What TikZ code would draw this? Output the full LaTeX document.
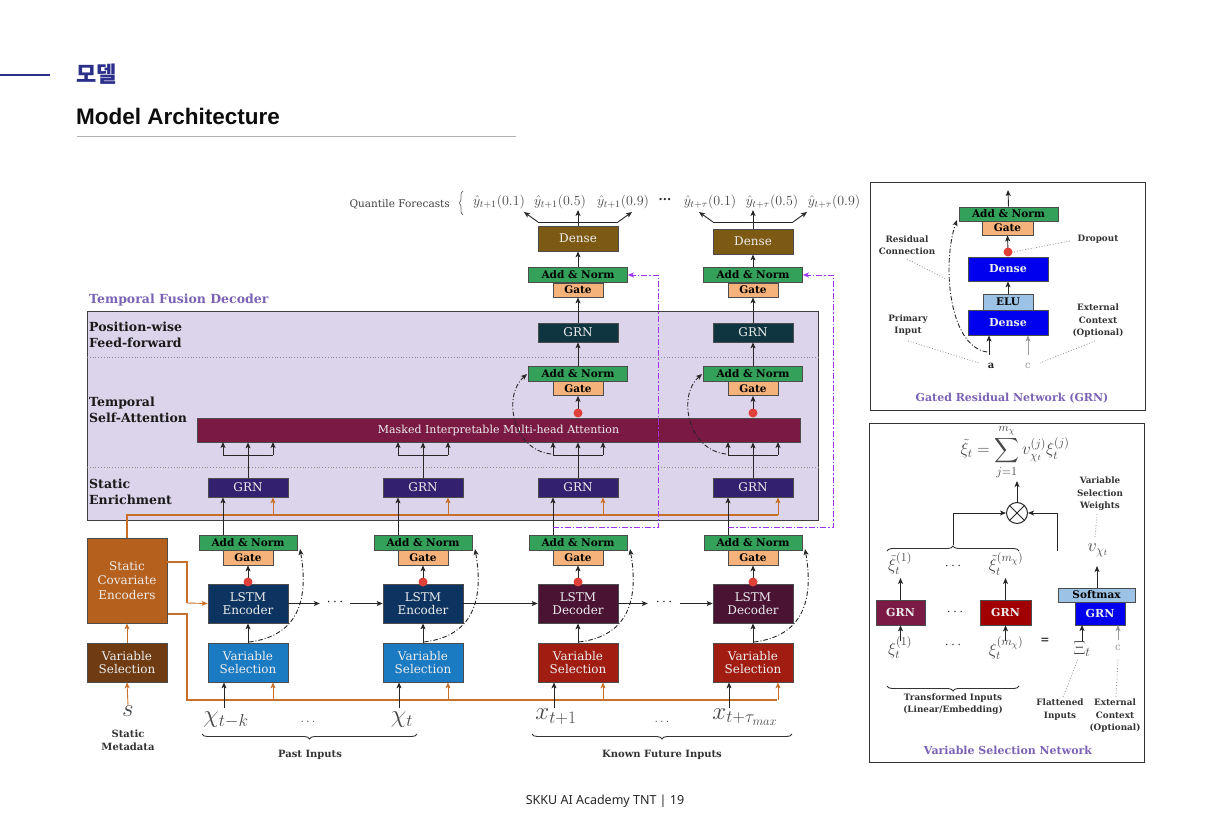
\RequirePackage{fix-cm}
\documentclass[tikz,border=0pt]{standalone}
\usepackage{exscale}
\usepackage{fontspec}
\setmainfont{DejaVu Serif}
\newfontfamily\kofont{Noto Sans CJK KR}
\newfontfamily\sansf{Noto Sans}
\newfontfamily\sansh{Liberation Sans}
\usetikzlibrary{arrows.meta,decorations.pathreplacing,calc}
\definecolor{navy}{HTML}{2B2F8A}
\definecolor{pbox}{HTML}{DCD4EA}
\definecolor{plabel}{HTML}{7B62B5}
\definecolor{addc}{HTML}{33A15A}
\definecolor{gatec}{HTML}{F5B27A}
\definecolor{densec}{HTML}{7D5A14}
\definecolor{pwc}{HTML}{0F3640}
\definecolor{grnind}{HTML}{33206E}
\definecolor{attc}{HTML}{7A1A42}
\definecolor{lenc}{HTML}{0D3461}
\definecolor{ldec}{HTML}{4A1233}
\definecolor{vsb}{HTML}{1A7AC2}
\definecolor{vsr}{HTML}{A11D12}
\definecolor{scec}{HTML}{B5601C}
\definecolor{svsc}{HTML}{6E3B12}
\definecolor{orl}{HTML}{C8702A}
\definecolor{viol}{HTML}{A033F0}
\definecolor{dblue}{HTML}{0000EE}
\definecolor{lblue}{HTML}{9CC3E5}
\definecolor{vmar}{HTML}{7B1A45}
\definecolor{vred}{HTML}{A00000}
\definecolor{reddot}{HTML}{E0403A}
\begin{document}
\begin{tikzpicture}[x=1pt,y=-1pt,
  bx/.style={draw=black!70, line width=0.7pt, inner sep=0pt, align=center, text=white!93!black, font=\fontsize{12}{13.5}\selectfont},
  bxb/.style={bx, text=black, font=\bfseries\fontsize{10.5}{12}\selectfont},
  bxw/.style={bx, font=\bfseries\fontsize{11}{13}\selectfont},
  arr/.style={-{Stealth[length=6pt,width=5pt,inset=1.5pt]}, line width=0.9pt, draw=black!85},
  plain/.style={line width=0.9pt, draw=black!85},
  oarr/.style={arr, draw=orl},
  oline/.style={draw=orl, line width=1.1pt},
  dd/.style={dash pattern=on 4.5pt off 2pt on 1pt off 2pt, line width=0.9pt},
  pdd/.style={dash pattern=on 6pt off 2pt on 1.5pt off 2pt, draw=viol, line width=1pt},
  leader/.style={dotted, line width=0.8pt, draw=black!45},
  lbl/.style={font=\bfseries\fontsize{12.5}{15.5}\selectfont, align=left, anchor=west, text=black!90, inner sep=0pt},
  plbl/.style={font=\bfseries\fontsize{11}{13}\selectfont, text=plabel},
  small/.style={font=\bfseries\fontsize{8.8}{12.5}\selectfont, align=center, text=black!80, inner sep=0pt},
  mth/.style={text=black!72, inner sep=0pt}
]
\useasboundingbox (0,0) rectangle (1207,837);

% ---------- header / footer
\draw[navy, line width=1.4pt] (0,75) -- (50,75);
\node[anchor=west, inner sep=0pt, text=navy, font=\kofont\bfseries\fontsize{22}{24}\selectfont] (ko) at (76,74) {모델};
\node[anchor=west, inner sep=0pt, font=\sansh\bfseries\fontsize{22.5}{24}\selectfont, text=black!95] (ttl) at (76,116) {Model Architecture};
\draw[black!30, line width=0.8pt] (77,136) -- (516,136);
\node[font=\sansf\fontsize{12.5}{14}\selectfont, text=black!85] (ft) at (605,801) {SKKU AI Academy TNT | 19};

% ---------- temporal fusion decoder box
\draw[draw=black!75, fill=pbox, line width=1pt] (87,311) rectangle (818,520);
\draw[leader] (87,357) -- (818,357);
\draw[leader] (87,467) -- (818,467);
\node[plbl, font=\bfseries\fontsize{12.5}{15}\selectfont, anchor=west, inner sep=0pt] (tfdl) at (89,300) {Temporal Fusion Decoder};
\node[lbl] (l1) at (89,335) {Position-wise\\Feed-forward};
\node[lbl] (l2) at (89,410) {Temporal\\Self-Attention};
\node[lbl] (l3) at (89,492) {Static\\Enrichment};

% orange lines
\draw[oline] (127,538) -- (127,515) -- (778,515);
\draw[oline] (167,614) -- (187,614) -- (187,700) -- (777,700);

\node[bx, fill=attc, minimum width=603, minimum height=24, font=\fontsize{11}{13}\selectfont] (att) at (498.5,430) {Masked Interpretable Multi-head Attention};

% ---------- static column
\node[bx, fill=scec, minimum width=80, minimum height=85, font=\fontsize{12}{14.5}\selectfont] (sce) at (127,580.5) {Static\\Covariate\\Encoders};
\node[bx, fill=svsc, minimum width=80, minimum height=39] (svs) at (127,662.5) {Variable\\Selection};
\node[mth, font=\fontsize{25}{28}\selectfont] (sm) at (128,711) {$s$};
\node[small, font=\bfseries\fontsize{10}{13}\selectfont] (smd) at (128,740) {Static\\Metadata};
\draw[oarr] (sm.north) -- (svs.south);
\draw[oarr] (svs.north) -- (sce.south);
\draw[oline] (167,562) -- (187,562) -- (187,603);

% ---------- columns
\foreach \i/\cx/\vcol/\lcol/\ltext in {1/248/vsb/lenc/Encoder,2/423/vsb/lenc/Encoder,3/578/vsr/ldec/Decoder,4/753/vsr/ldec/Decoder}{
  \node[bx, fill=\vcol, minimum width=80, minimum height=39] (vs\i) at (\cx,662.5) {Variable\\Selection};
  \node[bx, fill=\lcol, minimum width=80, minimum height=39] (ls\i) at (\cx,603.5) {LSTM\\\ltext};
  \node[bxb, fill=gatec, minimum width=50, minimum height=15] (eg\i) at (\cx,557.5) {Gate};
  \node[bxb, fill=addc, minimum width=98, minimum height=15] (ea\i) at (\cx,542.5) {Add \& Norm};
  \node[bx, fill=grnind, minimum width=80, minimum height=19] (se\i) at (\cx,487.5) {GRN};
  \coordinate (ed\i) at (\cx,582);
  \draw[arr] (vs\i.north) -- (ls\i.south);
  \draw[arr] (ed\i) -- (eg\i.south);
  \fill[reddot] (ed\i) circle (4.5);
  \draw[arr] ($(vs\i.south)+(-24,26)$) -- ($(vs\i.south)+(-24,0)$);
  \draw[oarr] ($(vs\i.south)+(25,18)$) -- ($(vs\i.south)+(25,0)$);
  \draw[arr] ($(ea\i.north)+(-25,0)$) -- ($(se\i.south)+(-25,0)$);
  \draw[oarr] ($(se\i.south)+(25,18)$) -- ($(se\i.south)+(25,0)$);
  \draw[dd, arr] (\cx+1,642) .. controls (\cx+50,636) and (\cx+61,600) .. (\cx+52,549);
  % attention inputs
  \draw[arr] (se\i.north) -- (se\i.north |- att.south);
  \draw[plain] (\cx-25,455) -- (\cx+25,455);
  \draw[arr] (\cx-25,455) -- (\cx-25,442);
  \draw[arr] (\cx+25,455) -- (\cx+25,442);
}
\draw[oarr] (187,603) -- (ls1.west);

% LSTM chain
\node[inner sep=0pt, minimum width=30, font=\fontsize{14}{14}\selectfont] (dA) at (335,602) {$\cdots$};
\node[inner sep=0pt, minimum width=32, font=\fontsize{14}{14}\selectfont] (dB) at (664,602) {$\cdots$};
\draw[arr] (ls1.east) -- (dA.west |- ls1.east);
\draw[arr] (dA.east |- ls2.west) -- (ls2.west);
\draw[arr] (ls2.east) -- (ls3.west);
\draw[arr] (ls3.east) -- (dB.west |- ls3.east);
\draw[arr] (dB.east |- ls4.west) -- (ls4.west);

% ---------- decoder upper part
\foreach \i/\cx/\dy in {3/578/238.5,4/753/241.5}{
  \coordinate (sd\i) at (\cx,413);
  \node[bxb, fill=gatec, minimum width=50, minimum height=14] (sg\i) at (\cx,388.5) {Gate};
  \node[bxb, fill=addc, minimum width=99, minimum height=15] (sa\i) at (\cx,373.5) {Add \& Norm};
  \node[bx, fill=pwc, minimum width=80, minimum height=19] (pw\i) at (\cx,332.5) {GRN};
  \node[bxb, fill=gatec, minimum width=50, minimum height=14] (tg\i) at (\cx,290) {Gate};
  \node[bxb, fill=addc, minimum width=99, minimum height=15] (ta\i) at (\cx,275) {Add \& Norm};
  \node[bx, fill=densec, minimum width=80, minimum height=25] (dn\i) at (\cx,\dy) {Dense};
  \draw[arr] (sd\i) -- (sg\i.south);
  \fill[reddot] (sd\i) circle (4.5);
  \draw[arr] (sa\i.north) -- (pw\i.south);
  \draw[arr] (pw\i.north) -- (tg\i.south);
  \draw[arr] (ta\i.north) -- (dn\i.south);
  \draw[dd, arr] (\cx-27,454) .. controls (\cx-65,450) and (\cx-76,396) .. (\cx-51,374);
  \draw[pdd, -{Stealth[length=6pt,width=5pt,inset=1.5pt]}] (\cx-25,527) -- (\cx+80,527) -- (\cx+80,275) -- (ta\i.east);
  % fan
  \draw[arr] (dn\i.north) -- (\cx,210);
  \draw[plain] (\cx-40,222) -- (\cx+40,222);
  \draw[arr] (\cx-40,222) -- (\cx-54,212);
  \draw[arr] (\cx+40,222) -- (\cx+54,212);
}

% quantile forecasts
\node[anchor=east, inner sep=0pt, font=\fontsize{10.5}{12}\selectfont, text=black!75] (qf) at (450,204) {Quantile Forecasts};
\draw[decorate, decoration={brace, amplitude=4pt}, draw=black!60, line width=0.7pt] (463,215) -- (463,191);
\begin{scope}[every node/.style={mth, font=\fontsize{14}{16}\selectfont}]
\node (q1) at (499,202) {$\hat{y}_{t+1}(0.1)$};
\node (q2) at (560,202) {$\hat{y}_{t+1}(0.5)$};
\node (q3) at (623,202) {$\hat{y}_{t+1}(0.9)$};
\node (q4) at (710,202) {$\hat{y}_{t+\tau}(0.1)$};
\node (q5) at (772,202) {$\hat{y}_{t+\tau}(0.5)$};
\node (q6) at (834,202) {$\hat{y}_{t+\tau}(0.9)$};
\end{scope}
\node[font=\bfseries\fontsize{12}{12}\selectfont, text=black!85] (qd) at (665,200) {...};

% inputs
\begin{scope}[every node/.style={mth, font=\fontsize{25}{28}\selectfont}]
\node (in1) at (226,720) {$\chi_{t-k}$};
\node (in2) at (402,720) {$\chi_t$};
\node (in3) at (556,717) {$x_{t+1}$};
\node (in4) at (745,717) {$x_{t+\tau_{max}}$};
\end{scope}
\node[mth, font=\fontsize{13}{13}\selectfont] (id1) at (308,722) {$\dots$};
\node[mth, font=\fontsize{13}{13}\selectfont] (id2) at (662,722) {$\dots$};
\draw[decorate, decoration={brace, mirror, amplitude=5pt}, draw=black!80, line width=0.9pt] (202,734) -- (417,734);
\draw[decorate, decoration={brace, mirror, amplitude=5pt}, draw=black!80, line width=0.9pt] (532,734) -- (792,734);
\node[small, font=\bfseries\fontsize{10}{12}\selectfont] (pin) at (310,755) {Past Inputs};
\node[small, font=\bfseries\fontsize{10}{12}\selectfont] (kin) at (662,755) {Known Future Inputs};

% ---------- GRN panel
\draw[black!80, line width=1pt] (870,183) rectangle (1145,410);
\node[bxb, fill=addc, minimum width=99, minimum height=14] (ga) at (1008.5,214) {Add \& Norm};
\node[bxb, fill=gatec, minimum width=51, minimum height=14] (gg) at (1007.5,228) {Gate};
\node[bxw, fill=dblue, minimum width=80, minimum height=24] (gd2) at (1008,269) {Dense};
\node[bxb, fill=lblue, minimum width=50, minimum height=16] (gelu) at (1008,302) {ELU};
\node[bxw, fill=dblue, minimum width=80, minimum height=25] (gd1) at (1008,322.5) {Dense};
\coordinate (gdot) at (1008,252);
\draw[arr] (gdot) -- (gg.south);
\fill[reddot] (gdot) circle (4.5);
\draw[arr] (gelu.north) -- (gd2.south);
\draw[arr] (ga.north) -- (1008,190);
\node[font=\bfseries\fontsize{10}{12}\selectfont, inner sep=0pt, text=black!85] (ga_) at (991,366) {a};
\node[font=\fontsize{10}{12}\selectfont, inner sep=0pt, text=black!40] (gc) at (1028,366) {c};
\draw[arr] (989,355) -- (989,335.5);
\draw[arr, draw=black!40] (1028,355) -- (1028,335.5);
\draw[dd, arr] (987,352) .. controls (948,346) and (942,262) .. (957,220);
\node[small] (rc) at (907,245) {Residual\\Connection};
\draw[leader] (907,259) -- (946,279);
\node[small] (dp) at (1098,239) {Dropout};
\draw[leader] (1070,241) -- (1013,252);
\node[small] (pi) at (908,325) {Primary\\Input};
\draw[leader] (908,341) -- (979,363);
\node[small] (ec) at (1098,321) {External\\Context\\(Optional)};
\draw[leader] (1095,341) -- (1040,363);
\node[plbl] (gt) at (1012,398) {Gated Residual Network (GRN)};

% ---------- VSN panel
\draw[black!80, line width=1pt] (869,423) rectangle (1144,762);
\node[mth, font=\fontsize{17}{19}\selectfont] (form) at (1015,452) {$\displaystyle \tilde{\xi}_t=\sum_{j=1}^{m_\chi} v_{\chi_t}^{(j)}\xi_t^{(j)}$};
\node[circle, draw=black!85, line width=1pt, minimum size=21pt, inner sep=0pt] (ot) at (1017,513) {};
\draw[line width=1pt, black!85] (ot.45) -- (ot.225) (ot.135) -- (ot.315);
\draw[arr] (ot.north) -- (1017,481);
\draw[decorate, decoration={brace, amplitude=5pt}, draw=black!80, line width=0.9pt] (887,551) -- (1019,551);
\draw[arr] (953,545) |- (ot.west);
\draw[arr] (1057,551) |- (ot.east);
\node[mth, font=\fontsize{18}{20}\selectfont] (vx) at (1098,550) {$v_{\chi_t}$};
\node[small] (vsw) at (1100,494) {Variable\\Selection\\Weights};
\draw[leader] (1097,514) -- (1095,538);
\node[bxb, fill=lblue, minimum width=77, minimum height=14] (smx) at (1096.5,595) {Softmax};
\node[bxw, fill=dblue, minimum width=50, minimum height=23] (vg) at (1100,613.5) {GRN};
\draw[arr] (1097,588) -- (1097,566);
\node[bxw, fill=vmar, minimum width=49, minimum height=25] (g1) at (900.5,612.5) {GRN};
\node[bxw, fill=vred, minimum width=51, minimum height=25] (g2) at (1005.5,612.5) {GRN};
\node[mth, text=black!85, font=\fontsize{14}{14}\selectfont] (gdots) at (955,612) {$\cdots$};
\begin{scope}[every node/.style={mth, font=\fontsize{17}{19}\selectfont}]
\node (tx1) at (900,564) {$\tilde{\xi}_t^{(1)}$};
\node (tx2) at (1006,564) {$\tilde{\xi}_t^{(m_\chi)}$};
\node (x1) at (900,648) {$\xi_t^{(1)}$};
\node (x2) at (1006,648) {$\xi_t^{(m_\chi)}$};
\end{scope}
\node[mth, font=\fontsize{19}{21}\selectfont] (Xi) at (1082,649) {$\Xi_t$};
\node[mth, text=black!85, font=\fontsize{14}{14}\selectfont] (tdots) at (953,566) {$\cdots$};
\node[mth, text=black!85, font=\fontsize{14}{14}\selectfont] (xdots) at (953,645) {$\cdots$};
\node[font=\bfseries\fontsize{11}{12}\selectfont, inner sep=0pt, text=black!80] (eq) at (1045,641) {=};
\node[font=\fontsize{10}{12}\selectfont, inner sep=0pt, text=black!40] (cc) at (1118,648) {c};
\draw[arr] (g1.north) -- (900.5,578);
\draw[arr] (g2.north) -- (1005.5,578);
\draw[arr] (900.5,641) -- (g1.south);
\draw[arr] (1005.5,641) -- (g2.south);
\draw[arr] (1082,641) -- (1082,625);
\draw[arr, draw=black!40] (1118,640) -- (1118,625);
\draw[decorate, decoration={brace, mirror, amplitude=5pt}, draw=black!80, line width=0.9pt] (887,686) -- (1019,686);
\node[small] (ti) at (953,704) {Transformed Inputs\\(Linear/Embedding)};
\node[small] (fi) at (1060,709.5) {Flattened\\Inputs};
\draw[leader] (1063,697) -- (1078,659);
\node[small] (ec2) at (1115,716) {External\\Context\\(Optional)};
\draw[leader] (1116,697) -- (1118,659);
\node[plbl] (vt) at (1008,750) {Variable Selection Network};
\end{tikzpicture}
\end{document}
